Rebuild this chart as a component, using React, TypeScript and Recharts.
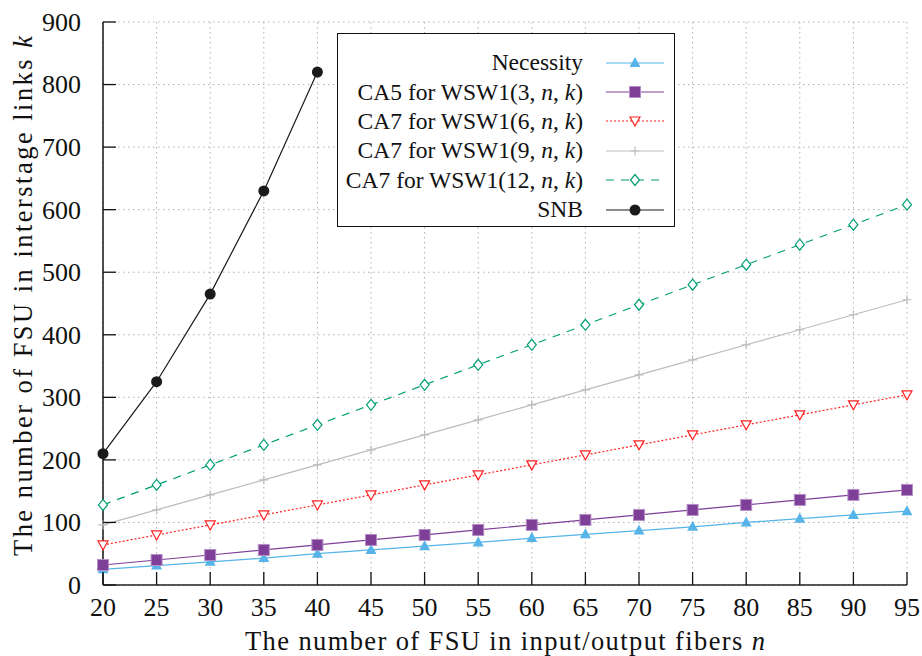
import React from "react";
import { LineChart, Line, XAxis, YAxis, CartesianGrid, Legend } from "recharts";

// n values on the x axis
const nValues = [20, 25, 30, 35, 40, 45, 50, 55, 60, 65, 70, 75, 80, 85, 90, 95];
const yTicks = [0, 100, 200, 300, 400, 500, 600, 700, 800, 900];

const necessity = [25, 31, 37, 43, 50, 56, 62, 68, 75, 81, 87, 93, 100, 106, 112, 118];
const ca5Wsw3 = [32, 40, 48, 56, 64, 72, 80, 88, 96, 104, 112, 120, 128, 136, 144, 152];
const ca7Wsw6 = [64, 80, 96, 112, 128, 144, 160, 176, 192, 208, 224, 240, 256, 272, 288, 304];
const ca7Wsw9 = [96, 120, 144, 168, 192, 216, 240, 264, 288, 312, 336, 360, 384, 408, 432, 456];
const ca7Wsw12 = [128, 160, 192, 224, 256, 288, 320, 352, 384, 416, 448, 480, 512, 544, 576, 608];
const snb = [210, 325, 465, 630, 820];

const data = nValues.map((n, i) => ({
  n,
  necessity: necessity[i],
  ca5: ca5Wsw3[i],
  ca7_6: ca7Wsw6[i],
  ca7_9: ca7Wsw9[i],
  ca7_12: ca7Wsw12[i],
  snb: i < snb.length ? snb[i] : null,
}));

const FONT = "Liberation Serif, serif";

type Kind = "triangle" | "square" | "down" | "plus" | "diamond" | "circle";

const Marker = ({ cx, cy, kind, color }: { cx: number; cy: number; kind: Kind; color: string }) => {
  switch (kind) {
    case "triangle":
      return <path d={`M${cx},${cy - 6} L${cx + 5.5},${cy + 4} L${cx - 5.5},${cy + 4} Z`} fill={color} />;
    case "square":
      return <rect x={cx - 5.5} y={cy - 5.5} width={11} height={11} fill={color} stroke="#b58fc6" strokeWidth={1} />;
    case "down":
      return (
        <path
          d={`M${cx - 5},${cy - 4} L${cx + 5},${cy - 4} L${cx},${cy + 5} Z`}
          fill="#fff"
          stroke={color}
          strokeWidth={1.2}
        />
      );
    case "plus":
      return (
        <path d={`M${cx - 4.5},${cy} H${cx + 4.5} M${cx},${cy - 4.5} V${cy + 4.5}`} stroke={color} strokeWidth={1.2} />
      );
    case "diamond":
      return (
        <path
          d={`M${cx},${cy - 5.5} L${cx + 4.5},${cy} L${cx},${cy + 5.5} L${cx - 4.5},${cy} Z`}
          fill="#fff"
          stroke={color}
          strokeWidth={1.2}
        />
      );
    default:
      return <circle cx={cx} cy={cy} r={5.5} fill={color} />;
  }
};

const It = ({ children }: { children: React.ReactNode }) => <span style={{ fontStyle: "italic" }}>{children}</span>;
const wsw = (prefix: string, m: number) => (
  <>
    {prefix} for WSW1({m}, <It>n</It>, <It>k</It>)
  </>
);

const series = [
  { key: "necessity", label: <>Necessity</>, color: "#56B4E9", dash: undefined, kind: "triangle" as Kind, width: 1.2 },
  { key: "ca5", label: wsw("CA5", 3), color: "#7E3F98", dash: undefined, kind: "square" as Kind, width: 1.2 },
  { key: "ca7_6", label: wsw("CA7", 6), color: "#FF2020", dash: "2 2", kind: "down" as Kind, width: 1.2 },
  { key: "ca7_9", label: wsw("CA7", 9), color: "#BDBDBD", dash: undefined, kind: "plus" as Kind, width: 1.2 },
  { key: "ca7_12", label: wsw("CA7", 12), color: "#009E73", dash: "8 7", kind: "diamond" as Kind, width: 1.2 },
  { key: "snb", label: <>SNB</>, color: "#1a1a1a", dash: undefined, kind: "circle" as Kind, width: 1.2 },
];

const BottomTick = (props: any) => {
  const { x, y, payload } = props;
  return (
    <g>
      <line x1={x} y1={y} x2={x} y2={y - 13} stroke="#111" strokeWidth={1.3} />
      <text x={x} y={y + 31} textAnchor="middle" fontSize={26} fontFamily={FONT} fill="#111">
        {payload.value}
      </text>
    </g>
  );
};

const TopTick = (props: any) => {
  const { x, y } = props;
  return <line x1={x} y1={y} x2={x} y2={y + 13} stroke="#111" strokeWidth={1.3} />;
};

const LeftTick = (props: any) => {
  const { x, y, payload } = props;
  return (
    <g>
      <line x1={x} y1={y} x2={x + 13} y2={y} stroke="#111" strokeWidth={1.3} />
      <text x={x - 22} y={y} dy="0.34em" textAnchor="end" fontSize={26} fontFamily={FONT} fill="#111">
        {payload.value}
      </text>
    </g>
  );
};

const RightTick = (props: any) => {
  const { x, y } = props;
  return <line x1={x} y1={y} x2={x - 13} y2={y} stroke="#111" strokeWidth={1.3} />;
};

const LegendBox = () => (
  <div
    style={{
      border: "1.2px solid #111",
      background: "#fff",
      padding: "14px 0 2px 0",
      fontFamily: FONT,
      fontSize: 23.5,
      color: "#111",
    }}
  >
    {series.map((s) => (
      <div key={s.key} style={{ display: "flex", alignItems: "center", height: 29.4 }}>
        <div style={{ width: 245, textAlign: "right", whiteSpace: "nowrap" }}>{s.label}</div>
        <svg width={90} height={20} style={{ display: "block" }}>
          <line x1={23} y1={10} x2={81} y2={10} stroke={s.color} strokeWidth={s.width} strokeDasharray={s.dash} />
          <Marker cx={52} cy={10} kind={s.kind} color={s.color} />
        </svg>
      </div>
    ))}
  </div>
);

const YTitle = () => (
  <text
    x={32}
    y={296}
    transform="rotate(-90, 32, 296)"
    textAnchor="middle"
    fontSize={26.5}
    fontFamily={FONT}
    fill="#111"
    textLength={520}
    lengthAdjust="spacing"
  >
    The number of FSU in interstage links <tspan fontStyle="italic">k</tspan>
  </text>
);

const XTitle = () => (
  <text
    x={505}
    y={650}
    textAnchor="middle"
    fontSize={26.5}
    fontFamily={FONT}
    fill="#111"
    textLength={520}
    lengthAdjust="spacing"
  >
    The number of FSU in input/output fibers <tspan fontStyle="italic">n</tspan>
  </text>
);

export default function App() {
  return (
    <div style={{ position: "absolute", left: 0, top: 0, background: "#fff", fontFamily: FONT }}>
      <LineChart width={922} height={656} data={data} margin={{ top: 22, right: 15, bottom: 0, left: 0 }}>
        <CartesianGrid stroke="#b0b0b0" strokeDasharray="1.5 3.5" strokeWidth={1} verticalValues={nValues} />
        <XAxis
          dataKey="n"
          type="number"
          domain={[20, 95]}
          ticks={nValues}
          interval={0}
          height={71}
          tickSize={0}
          tickMargin={0}
          tickLine={false}
          axisLine={{ stroke: "#222", strokeWidth: 1.6 }}
          tick={<BottomTick />}
          label={<XTitle />}
        />
        <XAxis
          xAxisId="top"
          orientation="top"
          dataKey="n"
          type="number"
          domain={[20, 95]}
          ticks={nValues}
          interval={0}
          height={0}
          tickSize={0}
          tickMargin={0}
          tickLine={false}
          axisLine={{ stroke: "#222", strokeWidth: 1.6 }}
          tick={<TopTick />}
        />
        <YAxis
          type="number"
          domain={[0, 900]}
          ticks={yTicks}
          interval={0}
          width={103}
          tickSize={0}
          tickMargin={0}
          tickLine={false}
          axisLine={{ stroke: "#222", strokeWidth: 1.6 }}
          tick={<LeftTick />}
          label={<YTitle />}
        />
        <YAxis
          yAxisId="right"
          orientation="right"
          type="number"
          domain={[0, 900]}
          ticks={yTicks}
          interval={0}
          width={0}
          tickSize={0}
          tickMargin={0}
          tickLine={false}
          axisLine={{ stroke: "#222", strokeWidth: 1.6 }}
          tick={<RightTick />}
        />
        <Legend
          layout="horizontal"
          verticalAlign="middle"
          align="center"
          content={() => <LegendBox />}
          wrapperStyle={{ left: 337, top: 33, width: 338 }}
        />
        {series.map((s) => (
          <Line
            key={s.key}
            dataKey={s.key}
            type="linear"
            stroke={s.color}
            strokeWidth={s.width}
            strokeDasharray={s.dash}
            isAnimationActive={false}
            connectNulls={false}
            dot={(p: any) =>
              p.cx == null || p.cy == null || p.value == null ? (
                <g key={`${s.key}-${p.index}`} />
              ) : (
                <Marker key={`${s.key}-${p.index}`} cx={p.cx} cy={p.cy} kind={s.kind} color={s.color} />
              )
            }
            activeDot={false}
          />
        ))}
      </LineChart>
    </div>
  );
}
